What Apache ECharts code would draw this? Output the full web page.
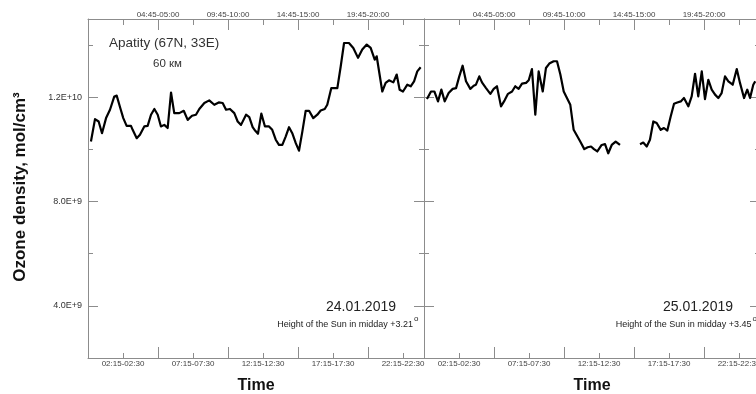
<!DOCTYPE html>
<html>
<head>
<meta charset="utf-8">
<script src="https://cdn.jsdelivr.net/npm/echarts@6/dist/echarts.min.js"></script>
<style>
html,body{margin:0;padding:0;background:#fff;}
#chart{width:756px;height:394px;}
</style>
</head>
<body>
<div id="chart"></div>
<script>
// ---- data (ozone density in units of 1E+9 mol/cm^3, time in hours) ----
const hours1 = [0.21,0.5,0.76,1.0,1.29,1.57,1.88,2.05,2.31,2.52,2.76,3.07,3.19,3.48,3.71,4.02,4.26,4.5,4.74,4.98,5.21,5.45,5.69,5.93,6.16,6.52,6.84,7.12,7.43,7.71,7.95,8.31,8.66,9.02,9.34,9.62,9.86,10.14,10.45,10.69,10.93,11.29,11.52,11.76,11.95,12.14,12.38,12.64,12.93,13.16,13.41,13.64,13.88,14.12,14.36,14.59,14.84,15.07,15.31,15.55,15.79,16.09,16.38,16.62,16.91,17.09,17.38,17.81,18.05,18.29,18.64,18.95,19.29,19.59,19.91,20.19,20.48,20.62,20.74,21.02,21.26,21.5,21.81,22.05,22.26,22.5,22.81,23.05,23.29,23.52,23.76];
const ozone1 = [10.30,11.16,11.07,10.62,11.20,11.52,12.03,12.06,11.58,11.20,10.90,10.90,10.75,10.43,10.56,10.88,10.90,11.33,11.55,11.33,10.88,10.94,10.82,12.18,11.39,11.39,11.48,11.13,11.29,11.33,11.55,11.78,11.88,11.71,11.80,11.78,11.52,11.55,11.39,11.07,10.94,11.33,11.24,10.85,10.71,10.60,11.37,10.88,10.88,10.75,10.37,10.17,10.17,10.49,10.85,10.62,10.24,9.95,10.68,11.48,11.48,11.20,11.33,11.49,11.55,11.71,12.35,12.35,13.18,14.08,14.08,13.89,13.51,13.83,14.02,13.89,13.44,13.57,13.51,12.22,12.55,12.65,12.57,12.87,12.29,12.22,12.48,12.42,12.61,12.99,13.15];

const hours2 = [0.21,0.5,0.74,1.0,1.24,1.48,1.76,2.05,2.29,2.52,2.76,3.0,3.31,3.55,3.71,3.95,4.14,4.43,4.74,4.98,5.21,5.5,5.76,6.0,6.29,6.52,6.76,7.0,7.29,7.48,7.71,7.95,8.19,8.48,8.71,8.95,9.26,9.5,9.74,9.98,10.21,10.45,10.69,10.93,11.16,11.45,11.69,11.93,12.14,12.38,12.69,12.93,13.16,13.41,13.69,14.0,14.7,15.43,15.66,15.91,16.14,16.38,16.62,16.91,17.14,17.38,17.62,17.86,18.09,18.34,18.57,18.88,19.12,19.36,19.59,19.84,20.07,20.31,20.55,20.79,21.02,21.26,21.5,21.74,22.05,22.34,22.57,22.86,23.09,23.29,23.52,23.66];
const ozone2 = [11.93,12.22,12.22,11.84,12.29,11.84,12.16,12.32,12.35,12.80,13.21,12.61,12.32,12.44,12.48,12.80,12.57,12.35,12.13,12.32,12.42,11.65,11.88,12.13,12.22,12.42,12.32,12.52,12.55,12.65,13.08,11.33,12.99,12.22,13.12,13.29,13.38,13.38,12.87,12.22,11.97,11.71,10.75,10.52,10.30,10.01,10.08,10.11,10.01,9.92,10.17,10.20,9.85,10.17,10.30,10.17,null,10.20,10.26,10.11,10.37,11.07,11.01,10.75,10.82,10.72,11.26,11.75,11.80,11.84,11.97,11.65,12.03,12.90,12.03,12.99,11.93,12.67,12.29,12.10,11.97,12.16,12.80,12.61,12.48,13.08,12.55,11.97,12.29,11.97,12.48,12.61];

// ---- tick labels ----
const bottomLabelHours = [2.5, 7.5, 12.5, 17.5, 22.5];
const bottomLabels = ['02:15-02:30','07:15-07:30','12:15-12:30','17:15-17:30','22:15-22:30'];
const topLabelHours = [5, 10, 15, 20];
const topLabels = ['04:45-05:00','09:45-10:00','14:45-15:00','19:45-20:00'];
const yLabelValues = [4, 8, 12];
const yLabels = ['4.0E+9','8.0E+9','1.2E+10'];
const yMinorValues = [6, 10, 14];

const dates = ['24.01.2019', '25.01.2019'];
const sunText = ['Height of the Sun in midday +3.21', 'Height of the Sun in midday +3.45'];

// ---- styling ----
const FONT = 'Liberation Sans, Arial, sans-serif';
const FRAME = '#8c8c8c';
const lineS = {color: FRAME, width: 1};

function lookup(vals, labels) {
  return function (v) {
    for (let i = 0; i < vals.length; i++) if (Math.abs(vals[i] - v) < 1e-6) return labels[i];
    return '';
  };
}

function xAxesFor(g) {
  const base = {gridIndex: g, type: 'value', min: 0, max: 24, splitLine: {show: false}};
  return [
    Object.assign({}, base, {position: 'bottom',
      axisLine: {show: true, onZero: false, lineStyle: lineS},
      axisTick: {show: true, inside: true, length: 11, customValues: topLabelHours, lineStyle: lineS},
      axisLabel: {show: true, customValues: bottomLabelHours, formatter: lookup(bottomLabelHours, bottomLabels),
        fontFamily: FONT, fontSize: 8, color: '#444', margin: 2}}),
    Object.assign({}, base, {position: 'bottom',
      axisLine: {show: false, onZero: false},
      axisTick: {show: true, inside: true, length: 5, customValues: bottomLabelHours, lineStyle: lineS},
      axisLabel: {show: false}}),
    Object.assign({}, base, {position: 'top',
      axisLine: {show: true, onZero: false, lineStyle: lineS},
      axisTick: {show: true, inside: true, length: 11, customValues: topLabelHours, lineStyle: lineS},
      axisLabel: {show: true, customValues: topLabelHours, formatter: lookup(topLabelHours, topLabels),
        fontFamily: FONT, fontSize: 8, color: '#444', margin: 0}}),
    Object.assign({}, base, {position: 'top',
      axisLine: {show: false, onZero: false},
      axisTick: {show: true, inside: true, length: 6, customValues: bottomLabelHours, lineStyle: lineS},
      axisLabel: {show: false}})
  ];
}

function yAxesFor(g, labels) {
  const base = {gridIndex: g, type: 'value', min: 2, max: 15, splitLine: {show: false}};
  return [
    Object.assign({}, base, {position: 'left',
      axisLine: {show: true, onZero: false, lineStyle: lineS},
      axisTick: {show: true, inside: true, length: 10, customValues: yLabelValues, lineStyle: lineS},
      axisLabel: {show: labels, customValues: yLabelValues, formatter: lookup(yLabelValues, yLabels),
        fontFamily: FONT, fontSize: 9, color: '#333', margin: 6}}),
    Object.assign({}, base, {position: 'left',
      axisLine: {show: false, onZero: false},
      axisTick: {show: true, inside: true, length: 5, customValues: yMinorValues, lineStyle: lineS},
      axisLabel: {show: false}}),
    Object.assign({}, base, {position: 'right',
      axisLine: {show: true, onZero: false, lineStyle: lineS},
      axisTick: {show: true, inside: true, length: 10, customValues: yLabelValues, lineStyle: lineS},
      axisLabel: {show: false}}),
    Object.assign({}, base, {position: 'right',
      axisLine: {show: false, onZero: false},
      axisTick: {show: true, inside: true, length: 5, customValues: yMinorValues, lineStyle: lineS},
      axisLabel: {show: false}})
  ];
}

function textEl(x, y, text, size, opts) {
  return Object.assign({type: 'text', x: x, y: y, silent: true,
    style: Object.assign({text: text, fontFamily: FONT, fontSize: size, fill: '#222',
      textAlign: 'left', textVerticalAlign: 'middle'}, (opts && opts.style) || {})},
    opts && opts.rotation !== undefined ? {rotation: opts.rotation} : {});
}

const chart = echarts.init(document.getElementById('chart'), null, {renderer: 'canvas'});
chart.setOption({
  animation: false,
  backgroundColor: '#fff',
  grid: [
    {left: 88, top: 19, width: 336, height: 339, containLabel: false, outerBoundsMode: 'none'},
    {left: 424, top: 19, width: 336, height: 339, containLabel: false, outerBoundsMode: 'none'}
  ],
  xAxis: xAxesFor(0).concat(xAxesFor(1)),
  yAxis: yAxesFor(0, true).concat(yAxesFor(1, false)),
  series: [
    {type: 'line', xAxisIndex: 0, yAxisIndex: 0, showSymbol: false, symbol: 'none',
      lineStyle: {color: '#000', width: 2.2, join: 'round'},
      data: hours1.map((h, i) => [h, ozone1[i]])},
    {type: 'line', xAxisIndex: 4, yAxisIndex: 4, showSymbol: false, symbol: 'none', connectNulls: false,
      lineStyle: {color: '#000', width: 2.2, join: 'round'},
      data: hours2.map((h, i) => [h, ozone2[i] === null ? '-' : ozone2[i]])}
  ],
  graphic: [
    textEl(20, 187, 'Ozone density, mol/cm³', 17, {rotation: Math.PI / 2,
      style: {fontWeight: 'bold', textAlign: 'center', fill: '#111'}}),
    textEl(109, 43, 'Apatity (67N, 33E)', 13.5, {style: {fill: '#333'}}),
    textEl(153, 64, '60 км', 11.5, {style: {fill: '#333'}}),
    textEl(396, 307, dates[0], 14, {style: {textAlign: 'right'}}),
    textEl(413, 325, sunText[0], 9, {style: {textAlign: 'right'}}),
    textEl(414, 319, 'o', 8, {}),
    textEl(733, 307, dates[1], 14, {style: {textAlign: 'right'}}),
    textEl(751.5, 325, sunText[1], 9, {style: {textAlign: 'right'}}),
    textEl(752.5, 319, 'o', 8, {}),
    textEl(256, 386, 'Time', 16, {style: {fontWeight: 'bold', textAlign: 'center', fill: '#111'}}),
    textEl(592, 386, 'Time', 16, {style: {fontWeight: 'bold', textAlign: 'center', fill: '#111'}})
  ]
});
</script>
</body>
</html>
